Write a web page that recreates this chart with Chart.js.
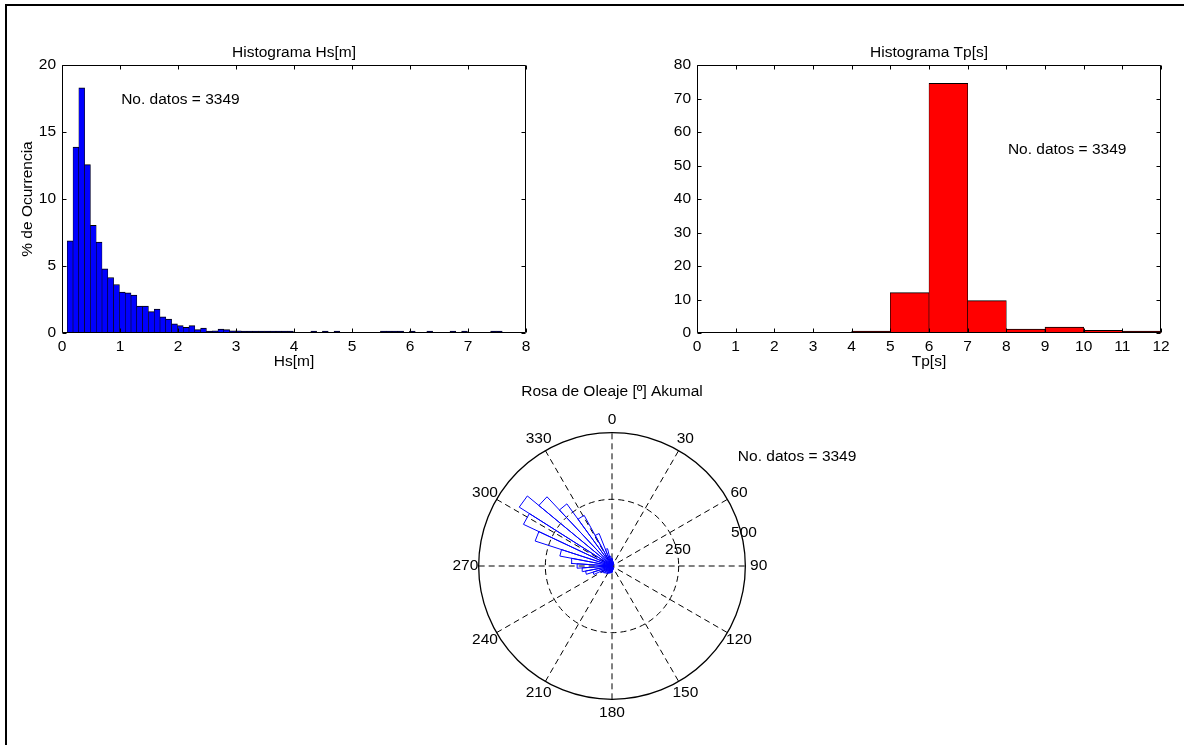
<!DOCTYPE html>
<html><head><meta charset="utf-8">
<script src="https://cdn.jsdelivr.net/npm/chart.js@4.4.0/dist/chart.umd.min.js"></script>
<style>
html,body{margin:0;padding:0;background:#fff;width:1184px;height:745px;overflow:hidden;position:relative}
#frame{position:absolute;left:5px;top:4px;width:1300px;height:900px;border-left:2px solid #000;border-top:2px solid #000}
canvas{position:absolute}
</style></head><body>
<div id="frame"></div>
<canvas id="hs" width="588" height="380" style="left:0;top:0"></canvas>
<canvas id="tp" width="588" height="380" style="left:635px;top:0"></canvas>
<canvas id="rose" width="600" height="400" style="left:312px;top:366px"></canvas>
<script>
// ---------- DATA ----------
const hsBinCenters = [0.14,0.24,0.34,0.44,0.54,0.64,0.74,0.84,0.94,1.04,1.14,1.24,1.34,1.44,1.54,1.64,1.74,1.84,1.94,2.04,2.14,2.24,2.34,2.44,2.54,2.64,2.74,2.84,2.94,3.04,3.14,3.24,3.34,3.44,3.54,3.64,3.74,3.84,3.94,4.34,4.54,4.74,5.54,5.64,5.74,5.84,6.04,6.34,6.74,6.94,7.44,7.54];
const hsPercent    = [6.87,13.88,18.3,12.56,8.03,6.79,4.78,4.14,3.62,3.05,3.0,2.83,2.0,2.0,1.6,1.78,1.2,1.04,0.69,0.55,0.42,0.55,0.25,0.37,0.12,0.17,0.3,0.25,0.17,0.17,0.1,0.1,0.15,0.15,0.15,0.12,0.05,0.08,0.06,0.06,0.06,0.06,0.03,0.06,0.06,0.12,0.06,0.06,0.06,0.06,0.03,0.06];
const hsTicksX = [0,1,2,3,4,5,6,7,8];
const hsTicksY = [0,5,10,15,20];

const tpBinCenters = [4.5,5.5,6.5,7.5,8.5,9.5,10.5,11.5];
const tpPercent    = [0.5,12.05,74.5,9.66,1.2,1.78,0.8,0.5];
const tpTicksX = [0,1,2,3,4,5,6,7,8,9,10,11,12];
const tpTicksY = [0,10,20,30,40,50,60,70,80];

const roseBinStart = [144,151.2,158.4,165.6,172.8,180,187.2,194.4,201.6,208.8,216,223.2,230.4,237.6,244.8,252,259.2,266.4,273.6,280.8,288,295.2,302.4,309.6,316.8,324,331.2,338.4,345.6,352.8,0,7.2,14.4,21.6,28.8,36];
const roseCounts   = [10,12,14,16,20,24,26,28,30,32,35,38,40,45,75,101,112,131,154,199,303,367,412,356,288,217,131,67,37,28,22,18,15,12,10,8];
const roseBinWidth = 7.2;
const roseAngleLabels = [0,30,60,90,120,150,180,210,240,270,300,330];
const roseRings = [250,500];
const nDatos = 3349;

// ---------- STYLE ----------
const FONT = '"Liberation Sans", Arial, Helvetica, sans-serif';
const FS = 15.5;
Chart.defaults.font.family = FONT;
Chart.defaults.font.size = FS;
Chart.defaults.color = '#000';

const matlabBox = {
  id:'matlabBox',
  afterDatasetsDraw(chart){
    const {ctx, chartArea:{left,right,top,bottom}, scales:{x,y}} = chart;
    ctx.save(); ctx.strokeStyle='#000'; ctx.lineWidth=1;
    const L=Math.round(left)+0.5, R=Math.round(right)-0.5, T=Math.round(top)+0.5, B=Math.round(bottom)-0.5;
    ctx.beginPath();
    ctx.rect(L,T,R-L,B-T);
    const tl=4;
    x.ticks.forEach(t=>{const p=Math.round(x.getPixelForValue(t.value))+0.5; ctx.moveTo(p,B); ctx.lineTo(p,B-tl); ctx.moveTo(p,T); ctx.lineTo(p,T+tl);});
    y.ticks.forEach(t=>{const p=Math.round(y.getPixelForValue(t.value))+0.5; ctx.moveTo(L,p); ctx.lineTo(L+tl,p); ctx.moveTo(R,p); ctx.lineTo(R-tl,p);});
    ctx.stroke(); ctx.restore();
  }
};
const annot = {
  id:'annot',
  afterDraw(chart, args, opts){
    const {ctx, chartArea, scales:{x,y}} = chart;
    ctx.save(); ctx.fillStyle='#000'; ctx.font = FS + 'px ' + FONT;
    ctx.textBaseline='middle';
    if(opts.title){
      ctx.textAlign='center';
      ctx.fillText(opts.title, (chartArea.left+chartArea.right)/2, chartArea.top - 12);
    }
    if(opts.text){
      ctx.textAlign='left';
      ctx.fillText(opts.text, x.getPixelForValue(opts.x), y.getPixelForValue(opts.y));
    }
    ctx.restore();
  }
};

function histo(id, centers, vals, color, title, xTitle, yTitle, xMax, xTicks, yMax, yTicks, ann){
  ann.title = title;
  return new Chart(document.getElementById(id), {
    type:'bar',
    data:{datasets:[{
      data: centers.map((c,i)=>({x:c, y:vals[i]})),
      backgroundColor:color, borderColor:'#000',
      borderWidth:{top:1,left:0.6,right:0.6,bottom:0}, borderSkipped:false,
      barPercentage:1, categoryPercentage:1, minBarLength:2
    }]},
    options:{
      responsive:false, animation:false, devicePixelRatio:1,
      layout:{padding:{left:0,right:62,top:65,bottom:0}},
      plugins:{
        legend:{display:false}, tooltip:{enabled:false}, title:{display:false},
        annot: ann
      },
      scales:{
        x:{type:'linear', min:0, max:xMax, offset:false,
           afterBuildTicks(s){ s.ticks = xTicks.map(v=>({value:v})); },
           ticks:{padding:4, maxRotation:0, autoSkip:false},
           grid:{display:false, drawTicks:false}, border:{display:false},
           title:{display:true, text:xTitle, padding:{top:0,bottom:9}},
           afterFit(s){ s.height = 47; }},
        y:{type:'linear', min:0, max:yMax,
           afterBuildTicks(s){ s.ticks = yTicks.map(v=>({value:v})); },
           ticks:{padding:6, autoSkip:false},
           grid:{display:false, drawTicks:false}, border:{display:false},
           title:{display:!!yTitle, text:yTitle||'', padding:{top:18,bottom:0}},
           afterFit(s){ s.width = 62; }}
      }
    },
    plugins:[matlabBox, annot]
  });
}

histo('hs', hsBinCenters, hsPercent, '#0000ff', 'Histograma Hs[m]', 'Hs[m]', '% de Ocurrencia', 8, hsTicksX, 20, hsTicksY,
      {text:'No. datos = ' + nDatos, x:1.02, y:17.4});
histo('tp', tpBinCenters, tpPercent, '#ff0000', 'Histograma Tp[s]', 'Tp[s]', null, 12, tpTicksX, 80, tpTicksY,
      {text:'No. datos = ' + nDatos, x:8.04, y:54.6});

// ---------- ROSE ----------
const rad = d => d*Math.PI/180;
const rosePath = [];
roseBinStart.forEach((a,i)=>{
  const r = roseCounts[i], a1 = rad(a), a2 = rad(a+roseBinWidth);
  rosePath.push({x:0,y:0},{x:r*Math.sin(a1),y:r*Math.cos(a1)},{x:r*Math.sin(a2),y:r*Math.cos(a2)});
});
rosePath.push({x:0,y:0});

const roseRMax = roseRings[roseRings.length-1];
const polarGrid = {
  id:'polarGrid',
  beforeDatasetsDraw(chart){
    const {ctx, scales:{x,y}} = chart;
    const cx=x.getPixelForValue(0), cy=y.getPixelForValue(0);
    const pr = v => x.getPixelForValue(v)-cx;
    const R = pr(roseRMax);
    ctx.save(); ctx.strokeStyle='#000'; ctx.lineWidth=1;
    ctx.setLineDash([6,4]);
    ctx.beginPath();
    for(let a=0;a<180;a+=30){
      const s=Math.sin(rad(a)), c=Math.cos(rad(a));
      ctx.moveTo(cx - R*s, cy + R*c); ctx.lineTo(cx + R*s, cy - R*c);
    }
    ctx.stroke();
    roseRings.slice(0,-1).forEach(v=>{ctx.beginPath(); ctx.arc(cx,cy,pr(v),0,2*Math.PI); ctx.stroke();});
    ctx.setLineDash([]);
    ctx.lineWidth=1.3;
    ctx.beginPath(); ctx.arc(cx,cy,R,0,2*Math.PI); ctx.stroke();
    ctx.restore();
  },
  afterDraw(chart){
    const {ctx, scales:{x,y}} = chart;
    ctx.save(); ctx.fillStyle='#000'; ctx.font = FS + 'px ' + FONT;
    ctx.textAlign='center'; ctx.textBaseline='middle';
    roseAngleLabels.forEach(a=>{
      const r = roseRMax*1.1;
      ctx.fillText(String(a), x.getPixelForValue(r*Math.sin(rad(a))), y.getPixelForValue(r*Math.cos(rad(a))));
    });
    roseRings.forEach(v=>{
      const r = v*1.02, a = rad(76);
      ctx.fillText(String(v), x.getPixelForValue(r*Math.sin(a)), y.getPixelForValue(r*Math.cos(a)));
    });
    ctx.fillText('Rosa de Oleaje [º] Akumal', x.getPixelForValue(0), y.getPixelForValue(654));
    ctx.textAlign='left';
    ctx.fillText('No. datos = ' + nDatos, x.getPixelForValue(472), y.getPixelForValue(410));
    ctx.restore();
  }
};

new Chart(document.getElementById('rose'), {
  type:'scatter',
  data:{datasets:[{data:rosePath, showLine:true, borderColor:'#0000ff', borderWidth:1, pointRadius:0, tension:0, fill:false}]},
  options:{
    responsive:false, animation:false, devicePixelRatio:1,
    layout:{padding:0},
    plugins:{legend:{display:false}, tooltip:{enabled:false}},
    scales:{
      x:{type:'linear', min:-1125, max:1125, display:false},
      y:{type:'linear', min:-750, max:750, display:false}
    }
  },
  plugins:[polarGrid]
});
</script>
</body></html>
